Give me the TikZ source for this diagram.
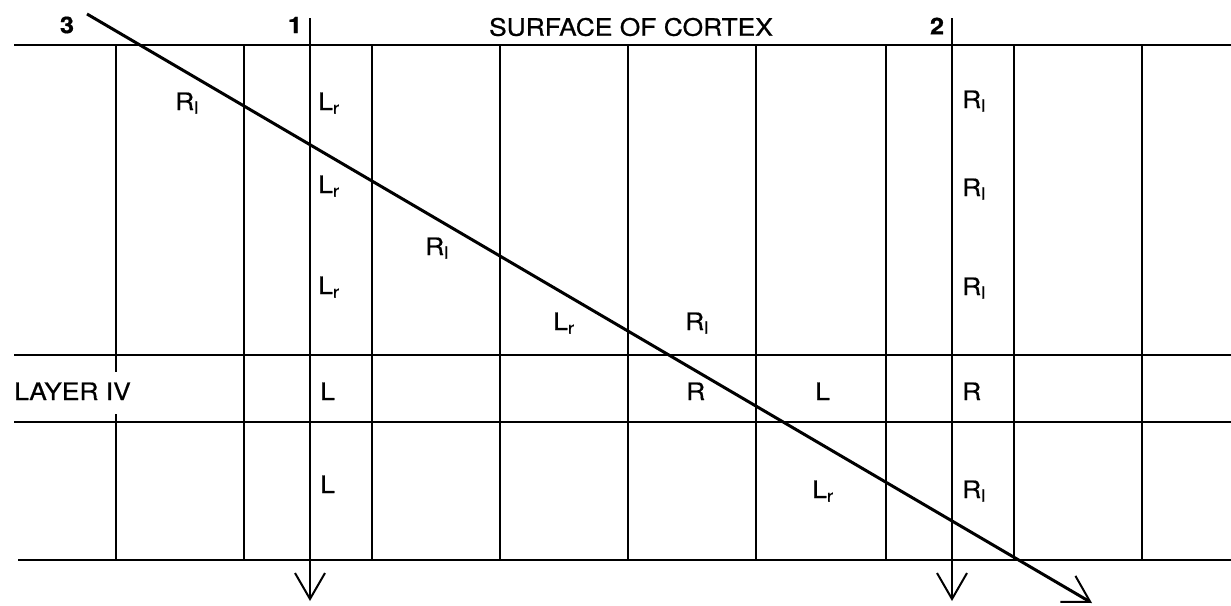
\documentclass[tikz,border=0pt]{standalone}
\usepackage{fontspec}
\setmainfont[FakeStretch=1.1,FakeBold=0.6]{TeX Gyre Heros}
\usetikzlibrary{arrows.meta}

\begin{document}
\begin{tikzpicture}[x=1pt,y=-1pt,
    grid/.style={line width=2pt},
    probe/.style={line width=2.4pt,-{Straight Barb[length=26pt,width=30pt,line width=2pt]}},
    lab/.style={font=\fontsize{24}{28}\selectfont,inner sep=0pt,anchor=base west},
    num/.style={font=\fontsize{23}{26}\selectfont\bfseries,inner sep=0pt}]
        \useasboundingbox (0,0) rectangle (1231,605);
        % layer boundaries
        \draw[grid] (14,45) -- (1231,45);
        \draw[grid] (14,355) -- (1231,355);
        \draw[grid] (14,422) -- (1231,422);
        \draw[grid] (18,560) -- (1231,560);
        % columns
        \draw[grid] (116,45) -- (116,372);
        \draw[grid] (116,414) -- (116,560);
        \foreach \x in {244,372,500,628,756,886,1014,1142}
            \draw[grid] (\x,45) -- (\x,560);
        % electrode tracks
        \coordinate (top1) at (310,18);
        \coordinate (tip1) at (310,601);
        \coordinate (top2) at (952,18);
        \coordinate (tip2) at (952,601);
        \coordinate (top3) at (87,14);
        \coordinate (tip3) at (1092,603);
        \draw[probe] (top1) -- (tip1);
        \draw[probe] (top2) -- (tip2);
        \draw[probe,line width=3pt] (top3) -- (tip3);
        \node[num] (n3) at (67,25) {3};
        \node[num] (n1) at (295,25) {1};
        \node[num] (n2) at (937,26) {2};
        \node[lab,anchor=center] (surf) at (631,27) {SURFACE OF CORTEX};
        \node[lab] (layer) at (14,400) {LAYER IV};
        % track 1
        \node[lab] (a1) at (318,110) {L\textsubscript{r}};
        \node[lab] (a2) at (318,193) {L\textsubscript{r}};
        \node[lab] (a3) at (318,294) {L\textsubscript{r}};
        \node[lab] (a4) at (320,400) {L};
        \node[lab] (a5) at (320,493) {L};
        % track 2
        \node[lab] (b1) at (962,108) {R\textsubscript{l}};
        \node[lab] (b2) at (962,196) {R\textsubscript{l}};
        \node[lab] (b3) at (962,295) {R\textsubscript{l}};
        \node[lab] (b4) at (962,400) {R};
        \node[lab] (b5) at (962,498) {R\textsubscript{l}};
        % track 3
        \node[lab] (c1) at (175,110) {R\textsubscript{l}};
        \node[lab] (c2) at (425,255) {R\textsubscript{l}};
        \node[lab] (c3) at (553,330) {L\textsubscript{r}};
        \node[lab] (c4) at (685,330) {R\textsubscript{l}};
        \node[lab] (c5) at (686,400) {R};
        \node[lab] (c6) at (815,400) {L};
        \node[lab] (c7) at (812,498) {L\textsubscript{r}};
    \end{tikzpicture}
\end{document}
